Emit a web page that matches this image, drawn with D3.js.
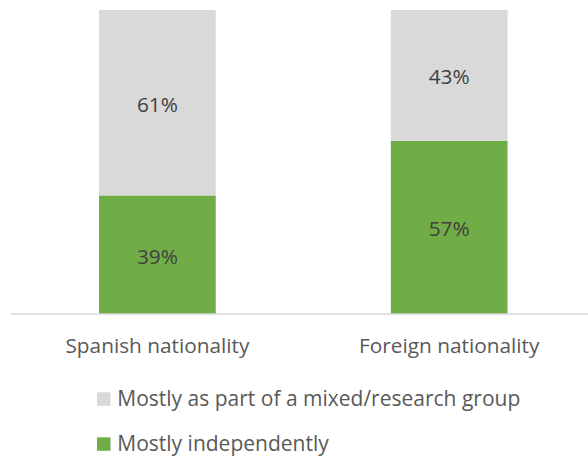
<!DOCTYPE html>
<html>
<head>
<meta charset="utf-8">
<script src="https://cdn.jsdelivr.net/npm/d3@7"></script>
<style>
  html, body { margin: 0; padding: 0; background: #fff; }
  svg { display: block; }
  text { font-family: "Open Sans", "Noto Sans", sans-serif; }
</style>
</head>
<body>
<svg id="chart" width="588" height="456"></svg>
<script>
// ---- data ----
const categories = ["Spanish nationality", "Foreign nationality"];
const seriesNames = ["Mostly independently", "Mostly as part of a mixed/research group"];
const independently = [39, 57];
const mixedGroup = [61, 43];
const legendOrder = ["Mostly as part of a mixed/research group", "Mostly independently"];

const colors = {
  "Mostly independently": "#70ad47",
  "Mostly as part of a mixed/research group": "#d9d9d9"
};

const rows = categories.map((c, i) => ({
  category: c,
  "Mostly independently": independently[i],
  "Mostly as part of a mixed/research group": mixedGroup[i]
}));

const svg = d3.select("#chart");

const x = d3.scaleBand()
  .domain(categories)
  .range([11.5, 595.1])
  .paddingInner(0.6)
  .paddingOuter(0.3);

const y = d3.scaleLinear().domain([0, 100]).range([314, 10]);

const stack = d3.stack().keys(seriesNames);
const stacked = stack(rows);

const layers = svg.append("g").selectAll("g")
  .data(stacked)
  .join("g")
  .attr("fill", d => colors[d.key]);

layers.selectAll("rect")
  .data(d => d.map(p => ({ p, key: d.key })))
  .join("rect")
  .attr("x", d => x(d.p.data.category))
  .attr("width", x.bandwidth())
  .attr("y", d => y(d.p[1]))
  .attr("height", d => y(d.p[0]) - y(d.p[1]));

// value labels
layers.selectAll("text")
  .data(d => d.map(p => ({ p, key: d.key })))
  .join("text")
  .attr("x", d => x(d.p.data.category) + x.bandwidth() / 2)
  .attr("y", d => (y(d.p[0]) + y(d.p[1])) / 2 + 9)
  .attr("text-anchor", "middle")
  .attr("font-size", 20.8)
  .attr("fill", "#404040")
  .text(d => (d.p[1] - d.p[0]) + "%");

// axis
const axis = svg.append("g")
  .attr("transform", "translate(0,314)")
  .call(d3.axisBottom(x).tickSize(0).tickPadding(0).tickSizeOuter(0));
axis.select(".domain")
  .attr("d", "M11,0H588")
  .attr("stroke", "#d9d9d9")
  .attr("stroke-width", 1.5);
axis.selectAll(".tick text")
  .attr("y", 38.7)
  .attr("dy", null)
  .attr("font-size", 20.8)
  .attr("font-family", "Open Sans, sans-serif")
  .attr("fill", "#595959");

// legend
const legend = svg.append("g").selectAll("g")
  .data(legendOrder)
  .join("g")
  .attr("transform", (d, i) => `translate(97,${392.3 + i * 45})`);
legend.append("rect")
  .attr("width", 13.5)
  .attr("height", 13.5)
  .attr("fill", d => colors[d]);
legend.append("text")
  .attr("x", 20.3)
  .attr("y", 13.5)
  .attr("font-size", 21)
  .attr("fill", "#595959")
  .text(d => d);
</script>
</body>
</html>
